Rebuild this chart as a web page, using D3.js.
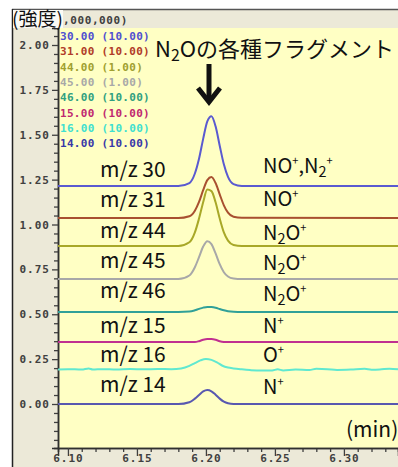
<!DOCTYPE html>
<html><head><meta charset="utf-8">
<script src="https://cdn.jsdelivr.net/npm/d3@7"></script>
<style>
html,body{margin:0;padding:0;background:#fff;}
svg{display:block;}
</style></head>
<body>
<svg id="chart" width="398" height="467"></svg>
<script>
// ---- data ----
const peakTimes = [6.0928, 6.180, 6.188, 6.192, 6.195, 6.198, 6.201, 6.204, 6.207, 6.210, 6.213, 6.216, 6.220, 6.226, 6.3392];
const mz30 = [1.214, 1.214, 1.231, 1.284, 1.366, 1.477, 1.574, 1.603, 1.547, 1.439, 1.335, 1.265, 1.225, 1.215, 1.214];
const mz31 = [1.036, 1.036, 1.046, 1.077, 1.126, 1.191, 1.247, 1.264, 1.231, 1.168, 1.107, 1.066, 1.043, 1.037, 1.036];
const mz44 = [0.880, 0.880, 0.901, 0.956, 1.033, 1.124, 1.195, 1.186, 1.124, 1.033, 0.956, 0.910, 0.886, 0.880, 0.880];
const mz45 = [0.696, 0.696, 0.716, 0.762, 0.818, 0.877, 0.907, 0.891, 0.839, 0.779, 0.734, 0.710, 0.699, 0.696, 0.696];
const mz46 = [0.513, 0.513, 0.515, 0.522, 0.530, 0.537, 0.541, 0.540, 0.536, 0.529, 0.522, 0.517, 0.514, 0.513, 0.513];
const mz15 = [0.345, 0.345, 0.345, 0.345, 0.350, 0.358, 0.362, 0.362, 0.358, 0.350, 0.346, 0.345, 0.345, 0.345, 0.345];
const mz14 = [0.000, 0.000, 0.010, 0.030, 0.050, 0.070, 0.078, 0.071, 0.052, 0.030, 0.013, 0.004, 0.000, 0.000, 0.000];
const mz16Times = [6.0928, 6.100, 6.110, 6.115, 6.118, 6.125, 6.135, 6.145, 6.155, 6.165, 6.175, 6.182, 6.188, 6.192, 6.196, 6.200, 6.204, 6.208, 6.212, 6.216, 6.220, 6.226, 6.232, 6.240, 6.248, 6.252, 6.256, 6.265, 6.275, 6.280, 6.288, 6.295, 6.305, 6.315, 6.320, 6.326, 6.333, 6.3392];
const mz16 = [0.192, 0.194, 0.192, 0.198, 0.192, 0.194, 0.192, 0.195, 0.193, 0.195, 0.194, 0.198, 0.212, 0.228, 0.243, 0.251, 0.246, 0.232, 0.213, 0.203, 0.198, 0.193, 0.189, 0.186, 0.187, 0.193, 0.187, 0.192, 0.190, 0.196, 0.194, 0.190, 0.192, 0.196, 0.191, 0.192, 0.197, 0.193];

const legendLabels = ["30.00 (10.00)", "31.00 (10.00)", "44.00 (1.00)", "45.00 (1.00)", "46.00 (10.00)", "15.00 (10.00)", "16.00 (10.00)", "14.00 (10.00)"];
const mzLabels = ["m/z 30", "m/z 31", "m/z 44", "m/z 45", "m/z 46", "m/z 15", "m/z 16", "m/z 14"];
const ionLabels = ["NO^+,N_2^+", "NO^+", "N_2O^+", "N_2O^+", "N_2O^+", "N^+", "O^+", "N^+"];
const yTicks = [0.00, 0.25, 0.50, 0.75, 1.00, 1.25, 1.50, 1.75, 2.00];
const xTicks = [6.10, 6.15, 6.20, 6.25, 6.30];
const titleText = "N_2Oの各種フラグメント";

// ---- styles ----
const lineColors = ["#5a5ad0", "#a85030", "#a8a828", "#a8a8a8", "#30a098", "#c03090", "#60e8d0", "#5858b0"];
const legendColors = ["#5050d0", "#b03c28", "#a0a030", "#a8a8a8", "#30a080", "#c02870", "#40e0d0", "#3838a8"];
const mzBaselines = [177, 207, 238, 268, 298, 333, 362, 392];
const ionBaselines = [173, 206, 240, 270, 301, 333, 362, 394];

const series = [
  {t: peakTimes, v: mz30}, {t: peakTimes, v: mz31}, {t: peakTimes, v: mz44}, {t: peakTimes, v: mz45},
  {t: peakTimes, v: mz46}, {t: peakTimes, v: mz15}, {t: mz16Times, v: mz16}, {t: peakTimes, v: mz14}
];

const svg = d3.select("#chart");
const W = 398, H = 467;
const pL = 58, pR = 398, pT = 28, pB = 448;

const x = d3.scaleLinear().domain([6.0928, 6.3392]).range([pL, pR]);
const y = d3.scaleLinear().domain([-0.2451, 2.0947]).range([pB, pT]);

// frame
svg.append("rect").attr("x", 12).attr("y", 9).attr("width", W - 12).attr("height", H - 9).attr("fill", "#ece9d8");
svg.append("line").attr("x1", 12).attr("x2", W).attr("y1", 9.5).attr("y2", 9.5).attr("stroke", "#555").attr("stroke-width", 1.5);
svg.append("line").attr("x1", 12.5).attr("x2", 12.5).attr("y1", 9).attr("y2", H).attr("stroke", "#222").attr("stroke-width", 1.5);

// plot background
svg.append("rect").attr("x", pL).attr("y", pT).attr("width", pR - pL).attr("height", pB - pT).attr("fill", "#ffffc4");

svg.append("clipPath").attr("id", "clip").append("rect")
  .attr("x", pL).attr("y", pT).attr("width", pR - pL).attr("height", pB - pT);

// axes
const monoFont = "'DejaVu Sans Mono', monospace";
const yMinor = d3.range(-0.20, 2.09, 0.05).filter(v => Math.abs(Math.round(v * 4) - v * 4) > 1e-6);
const yAxisMinor = svg.append("g").attr("transform", `translate(${pL},0)`)
  .call(d3.axisLeft(y).tickValues(yMinor).tickSize(4).tickFormat(""));
const yAxis = svg.append("g").attr("transform", `translate(${pL},0)`)
  .call(d3.axisLeft(y).tickValues(yTicks).tickSize(6).tickPadding(2).tickFormat(d3.format(".2f")));
const xMinor = d3.range(6.10, 6.339, 0.01).filter(v => Math.abs(Math.round(v * 20) - v * 20) > 1e-6);
const xAxisMinor = svg.append("g").attr("transform", `translate(0,${pB})`)
  .call(d3.axisBottom(x).tickValues(xMinor).tickSize(4).tickFormat(""));
const xAxis = svg.append("g").attr("transform", `translate(0,${pB})`)
  .call(d3.axisBottom(x).tickValues(xTicks).tickSize(8).tickPadding(0).tickFormat(d3.format(".2f")));
[yAxis, yAxisMinor, xAxis, xAxisMinor].forEach(g => {
  g.select(".domain").attr("stroke", "#303030").attr("stroke-width", 1.5);
  g.selectAll(".tick line").attr("stroke", "#404040").attr("stroke-width", 1.3);
  g.selectAll("text").attr("font-family", monoFont).attr("font-weight", "bold")
    .attr("font-size", 11).attr("fill", "#404040").attr("letter-spacing", 1);
});
xAxis.selectAll("text").attr("dy", "0.55em");

// lines
const line = d3.line().x(d => x(d[0])).y(d => y(d[1])).curve(d3.curveMonotoneX);
const gLines = svg.append("g").attr("clip-path", "url(#clip)");
series.forEach((s, i) => {
  const pts = s.t.map((t, j) => [t, s.v[j]]);
  gLines.append("path").datum(pts).attr("d", line).attr("fill", "none")
    .attr("stroke", lineColors[i]).attr("stroke-width", 2).attr("stroke-linejoin", "round");
});

// legend
const legend = svg.append("g");
legendLabels.forEach((lab, i) => {
  legend.append("text").attr("x", 60).attr("y", 40 + i * 15.3).text(lab)
    .attr("font-family", monoFont).attr("font-weight", "bold").attr("font-size", 11)
    .attr("letter-spacing", 0.3).attr("fill", legendColors[i]);
});

// rich text helper (^ superscript, _ subscript)
const jp = "'Noto Sans CJK JP', 'Noto Sans', sans-serif";
function rich(sel, str, fs) {
  const re = /(\^.|_.)|([^\^_]+)/g;
  let m, shift = 0;
  while ((m = re.exec(str)) !== null) {
    if (m[1]) {
      const isSup = m[1][0] === "^";
      const target = isSup ? -0.38 * fs : 0.18 * fs;
      sel.append("tspan").attr("dy", target - shift).attr("font-size", fs * (isSup ? 0.55 : 0.72)).text(m[1][1]);
      shift = target;
    } else {
      sel.append("tspan").attr("dy", -shift).attr("font-size", fs).text(m[2]);
      shift = 0;
    }
  }
}

mzLabels.forEach((lab, i) => {
  svg.append("text").attr("x", 100).attr("y", mzBaselines[i]).text(lab)
    .attr("font-family", jp).attr("font-size", 21).attr("fill", "#111");
});
ionLabels.forEach((lab, i) => {
  const t = svg.append("text").attr("x", 263).attr("y", ionBaselines[i])
    .attr("font-family", jp).attr("font-size", 20).attr("fill", "#111");
  rich(t, lab, 20);
});

// title annotation
const tt = svg.append("text").attr("x", 155).attr("y", 57).attr("font-family", jp).attr("fill", "#111");
rich(tt, titleText, 22);

// arrow
svg.append("path").attr("d", "M209,64 L209,102").attr("stroke", "#111").attr("stroke-width", 5).attr("fill", "none");
svg.append("path").attr("d", "M198,88 L209,102 L220,88").attr("stroke", "#111").attr("stroke-width", 5)
  .attr("fill", "none").attr("stroke-linejoin", "miter");

// (min)
svg.append("text").attr("x", 346).attr("y", 437).text("(min)")
  .attr("font-family", jp).attr("font-size", 21).attr("fill", "#111");

// y unit label
svg.append("rect").attr("x", 13).attr("y", 10).attr("width", 50).attr("height", 18).attr("fill", "#fbfaf5");
svg.append("text").attr("x", 12).attr("y", 26).text("(強度)")
  .attr("font-family", jp).attr("font-size", 19).attr("fill", "#111");
svg.append("text").attr("x", 63).attr("y", 24).text(",000,000)")
  .attr("font-family", monoFont).attr("font-weight", "bold").attr("font-size", 11)
  .attr("letter-spacing", 0.6).attr("fill", "#404040");
</script>
</body></html>
